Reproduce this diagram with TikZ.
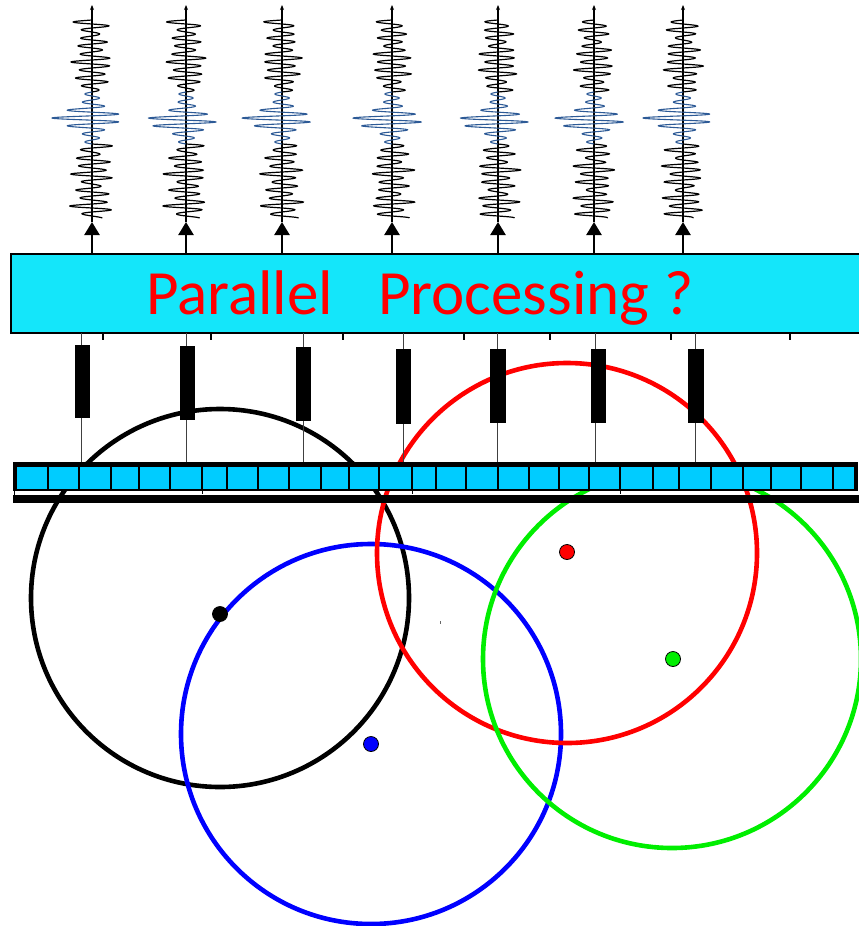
\documentclass[tikz,border=0pt]{standalone}
\usepackage{fontspec}
\newfontfamily\calib{Carlito}
\usetikzlibrary{arrows.meta}

\definecolor{boxcyan}{RGB}{20,230,250}
\definecolor{cellcyan}{RGB}{0,204,255}
\definecolor{traceblue}{RGB}{45,90,150}
\definecolor{ringgreen}{RGB}{0,238,0}

\tikzset{
  ring/.style={line width=4.6pt},
  dot/.style={circle, draw=black, line width=0.8pt, minimum size=15pt, inner sep=0pt},
  valve/.style={fill=black, inner sep=0pt, minimum width=15pt},
  feed/.style={draw=black!75, line width=0.9pt},
  tick/.style={line width=1.6pt},
  upArrow/.style={line width=2.4pt, -{Triangle[width=15pt,length=13pt]}},
  axisline/.style={line width=1.2pt, -{Stealth[length=5pt,width=4pt]}},
  blacktrace/.style={line width=1.2pt, black},
  bluetrace/.style={line width=1.1pt, traceblue},
  cell/.style={fill=cellcyan, draw=black, line width=1.3pt},
  title/.style={text=red, font=\calib\fontsize{63}{70}\selectfont, anchor=base west, inner sep=0pt},
}

% one seismogram: name, axis x, phase of the envelope wobble, y of the burst
\newcommand\seisTrace[4]{%
  \coordinate (#1) at (#2,222);
  \draw[axisline] (#1) -- (#2,5);
  \draw[blacktrace] plot[domain=20:92, samples=320, variable=\t]
     ({#2 + (14+4*sin(19*\t+#3)+3*sin(7*\t))*sin(45*\t)}, {\t});
  \draw[bluetrace] plot[domain=92:144, samples=320, variable=\t]
     ({#2 - 5*exp(-((\t-#4)/10)^2) + (7+28*exp(-((\t-#4)/10)^2))*sin(45*\t)}, {\t});
  \draw[blacktrace] plot[domain=144:218, samples=340, variable=\t]
     ({#2 + (15+5*sin(23*\t+#3)+3*sin(11*\t))*sin(45*\t)}, {\t});
}

\begin{document}
\begin{tikzpicture}[x=1pt, y=-1pt]
\useasboundingbox (0,0) rectangle (859,926);

% coverage rings
\draw[ring, black]      (220,598) circle[radius=189pt];
\draw[ring, blue]       (371,734) circle[radius=190pt];
\draw[ring, red]        (567,553) circle[radius=190pt];
\draw[ring, ringgreen]  (672,659) circle[radius=189pt];
\fill[black!60] (439.5,621) rectangle (441,623.5);

% ring centres
\node[dot, fill=black]     (dk) at (220,614) {};
\node[dot, fill=blue]      (db) at (371,744) {};
\node[dot, fill=red]       (dr) at (567,552) {};
\node[dot, fill=ringgreen] (dg) at (673,659) {};

% processing box
\node[draw=black, line width=1.3pt, fill=boxcyan, anchor=north west,
      minimum width=870pt, minimum height=79pt, inner sep=0pt, outer sep=0pt]
      (box) at (11,254) {};
\node[title] (w1) at (146,314) {Parallel};
\node[title] (w2) at (378,314) {Processing};
\node[title] (w3) at (664,314) {?};

% short marks under the box
\foreach \x in {103,211,343,464,550,671,790}
  \draw[tick] (\x,333) -- (\x,340);

% output traces
\seisTrace{s1}{92}{0}{118}
\seisTrace{s2}{186}{40}{121}
\seisTrace{s3}{282}{80}{119}
\seisTrace{s4}{392}{120}{120}
\seisTrace{s5}{498}{160}{121}
\seisTrace{s6}{594}{200}{120}
\seisTrace{s7}{683}{240}{118}
\foreach \s in {s1,s2,s3,s4,s5,s6,s7}
  \draw[upArrow] (box.north -| \s) -- (\s);

% feeds from the strip up to the box
\foreach \n/\x in {1/81,2/186,3/303,4/403,5/497,6/595,7/695}
  \coordinate (c\n) at (\x,466);
\foreach \n in {1,...,7}
  \draw[feed] (box.south -| c\n) -- (c\n);

% delay blocks
\node[valve, minimum height=73pt] (v1) at (82.5,381.5) {};
\node[valve, minimum height=74pt] (v2) at (187.5,383) {};
\node[valve, minimum height=74pt] (v3) at (303.5,384) {};
\node[valve, minimum height=75pt] (v4) at (403.5,386.5) {};
\node[valve, minimum height=74pt, minimum width=16pt] (v5) at (498,386) {};
\node[valve, minimum height=74pt] (v6) at (598.5,386) {};
\node[valve, minimum height=74pt, minimum width=16pt] (v7) at (696,386) {};

% sensor strip
\fill[black] (13,461.5) rectangle (858,466);
\foreach \a/\b in {16/48,48/79,79/111,111/139,139/170,170/202,202/227,227/258,
                   258/289,289/321,321/349,349/379,379/412,412/436,436/466,
                   466/498,498/529,529/559,559/589,589/620,620/653,653/679,
                   679/711,711/743,743/771,771/801,801/833,833/855}
  \draw[cell] (\a,466) rectangle (\b,490);
\foreach \x in {202,412,620}
  \draw[black, line width=1pt] (\x,490) -- (\x,494);
\fill[black] (13,461.5) rectangle (16.5,491);
\fill[black] (854.5,461.5) rectangle (858,491);
\draw[black, line width=1pt] (14.5,491) -- (14.5,496);
\fill[black] (13,495) rectangle (859,503);
\end{tikzpicture}
\end{document}
